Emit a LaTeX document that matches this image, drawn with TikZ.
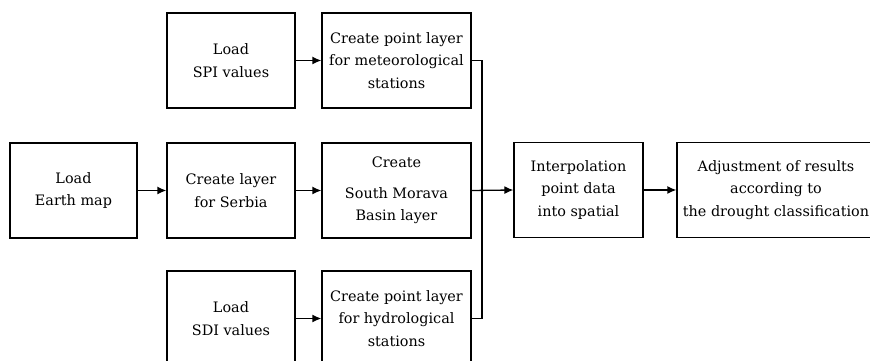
\documentclass[tikz,border=0pt]{standalone}
\usepackage{fontspec}
\setmainfont{DejaVu Serif}
\usepackage{tikz}
\usetikzlibrary{positioning,arrows.meta}

\begin{document}
\begin{tikzpicture}[x=1pt, y=1pt,
  box/.style={draw, line width=1.3pt, align=center, minimum height=95pt, font=\fontsize{14.4}{22.5}\selectfont},
  flow/.style={line width=1.3pt, -{Latex[length=9pt,width=8pt]}},
  wire/.style={line width=1.3pt}]
% Page region
\def\pw{870}
\def\ph{361}
\useasboundingbox (0,0) rectangle (\pw,\ph);
\clip (0,0) rectangle (\pw,\ph);
% Input boxes
\node[box, minimum width=128pt] (spi)   at (231,300.5) {Load\\ SPI values};
\node[box, minimum width=127pt] (earth) at (73.5,170.5) {Load\\ Earth map};
\node[box, minimum width=128pt] (serbia) at (231,170.5) {Create layer\\ for Serbia};
\node[box, minimum width=128pt] (sdi)   at (231,42.5) {Load\\ SDI values};
% Layer boxes
\node[box, minimum width=149pt] (meteo)  at (396.5,300.5) {Create point layer\\ for meteorological\\ stations};
\node[box, minimum width=149pt] (morava) at (396.5,170.5) {Create\\[8pt] South Morava\\ Basin layer};
\node[box, minimum width=149pt] (hydro)  at (396.5,42.5) {Create point layer\\ for hydrological\\ stations};
% Output boxes
\node[box, minimum width=129pt] (interp) at (578.5,171) {Interpolation\\ point data\\ into spatial};
\node[box, minimum width=198pt] (adjust) at (776,171) {Adjustment of results\\ according to\\ the drought classification};
% Arrows between boxes
\foreach \a/\b in {spi/meteo, earth/serbia, serbia/morava, sdi/hydro, interp/adjust} {
  \draw[flow] (\a) -- (\b);
}
% Collecting line
\coordinate (join) at (482,171);
\draw[wire] (meteo.east) -| (join);
\draw[wire] (hydro.east) -| (join);
\draw[flow] (morava.east) -- (interp.west);
\end{tikzpicture}
\end{document}
